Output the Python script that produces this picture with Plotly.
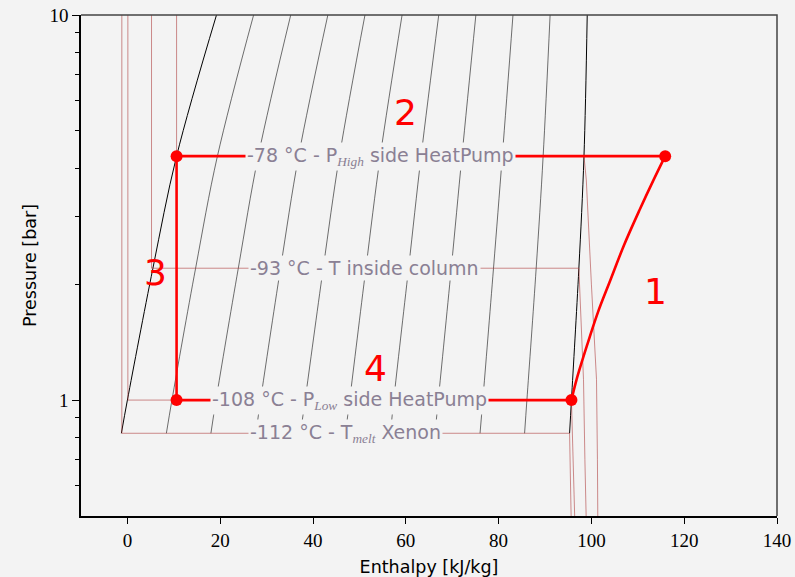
import plotly.graph_objects as go
import math

# ---------------- data ----------------
P_SAT = [0.82, 1.0, 2.2, 4.3, 10.0]                 # bar
H_SAT_LIQ = [-1.3, 0.0, 5.5, 10.6, 19.2]            # kJ/kg
H_SAT_VAP = [95.3, 95.7, 97.3, 98.4, 99.1]

QUALITY_H = [
    [8.4, 9.6, 14.7, 19.4, 27.2],
    [18.0, 19.1, 23.9, 28.2, 35.2],
    [27.7, 28.7, 33.0, 36.9, 43.2],
    [37.3, 38.3, 42.2, 45.7, 51.2],
    [47.0, 47.9, 51.4, 54.5, 59.2],
    [56.7, 57.4, 60.6, 63.3, 67.1],
    [66.3, 67.0, 69.8, 72.1, 75.1],
    [76.0, 76.6, 78.9, 80.8, 83.1],
    [85.6, 86.1, 88.1, 89.6, 91.1],
]

ISO_M112_H = [-1.2, -1.2, 95.3, 95.5, 95.7]
ISO_M112_P = [10.0, 0.82, 0.82, 0.6, 0.45]
ISO_M108_H = [0.1, 0.1, 95.7, 96.1, 96.5]
ISO_M108_P = [10.0, 1.0, 1.0, 0.7, 0.45]
ISO_M93_H = [5.2, 5.2, 97.3, 98.3, 98.6, 98.95]
ISO_M93_P = [10.0, 2.2, 2.2, 1.13, 0.7, 0.45]
ISO_M78_H = [10.6, 10.6, 98.4, 98.9, 100.0, 101.1, 101.3, 101.4]
ISO_M78_P = [10.0, 4.3, 4.3, 3.73, 2.0, 1.13, 0.7, 0.45]

P_HIGH = 4.3
P_LOW = 1.0
H_LIQ_POINT = 10.6
H_COMP_OUT = 115.9
H_EVAP_OUT = 95.7
COMP_H = [115.9, 113.4, 110.4, 107.0, 104.1, 101.4, 99.0, 96.8, 95.7]
COMP_P = [4.3, 3.73, 3.12, 2.52, 2.05, 1.69, 1.38, 1.13, 1.0]

LABELS = [
    "-78 °C - P<sub><span style='font-family:Liberation Serif'><i>High</i></span></sub> side HeatPump",
    "-93 °C - T inside column",
    "-108 °C - P<sub><span style='font-family:Liberation Serif'><i>Low</i></span></sub> side HeatPump",
    "-112 °C - T<sub><span style='font-family:Liberation Serif'><i>melt</i></span></sub> Xenon",
]
LABEL_H = [54.5, 51.1, 47.8, 47.1]
LABEL_P = [4.3, 2.2, 1.0, 0.82]

STEP_TEXT = ["1", "2", "3", "4"]
STEP_H = [113.9, 59.9, 6.1, 53.4]
STEP_P = [1.91, 5.58, 2.15, 1.21]

X_TICKS = [0, 20, 40, 60, 80, 100, 120, 140]
Y_TICKS = [1, 10]
Y_MINOR = [0.6, 0.7, 0.8, 0.9, 2, 3, 4, 5, 6, 7, 8, 9]

# ---------------- figure ----------------
BG = "#f3f3f3"
THIN_RED = "rgba(170,50,50,0.55)"
fig = go.Figure()

def line(x, y, color, width, shape="linear"):
    fig.add_trace(go.Scatter(x=x, y=y, mode="lines", hoverinfo="skip",
                             line=dict(color=color, width=width, shape=shape),
                             showlegend=False))

for qh in QUALITY_H:
    line(qh, P_SAT, "rgba(0,0,0,0.7)", 0.8, "spline")
line(H_SAT_LIQ, P_SAT, "black", 1.0, "spline")
line(H_SAT_VAP, P_SAT, "black", 1.0, "spline")

for h, p in [(ISO_M112_H, ISO_M112_P), (ISO_M108_H, ISO_M108_P),
             (ISO_M93_H, ISO_M93_P), (ISO_M78_H, ISO_M78_P)]:
    line(h, p, THIN_RED, 1.0)

# cycle
RED = "#ff0000"
line([H_LIQ_POINT, H_COMP_OUT], [P_HIGH, P_HIGH], RED, 2.6)
line(COMP_H, COMP_P, RED, 2.6, "spline")
line([H_EVAP_OUT, H_LIQ_POINT], [P_LOW, P_LOW], RED, 2.6)
line([H_LIQ_POINT, H_LIQ_POINT], [P_LOW, P_HIGH], RED, 2.6)
fig.add_trace(go.Scatter(x=[H_LIQ_POINT, H_COMP_OUT, H_EVAP_OUT, H_LIQ_POINT],
                         y=[P_HIGH, P_HIGH, P_LOW, P_LOW], mode="markers",
                         marker=dict(color=RED, size=12), hoverinfo="skip",
                         showlegend=False))

for t, h, p in zip(LABELS, LABEL_H, LABEL_P):
    fig.add_annotation(x=h, y=math.log10(p), text=t, showarrow=False,
                       font=dict(family="DejaVu Sans", size=19, color="#8a8094"),
                       bgcolor=BG, borderpad=1)
for t, h, p in zip(STEP_TEXT, STEP_H, STEP_P):
    fig.add_annotation(x=h, y=math.log10(p), text=t, showarrow=False,
                       font=dict(family="DejaVu Sans", size=36, color=RED))

# top/right frame
fig.add_shape(type="path", xref="paper", yref="paper",
              path="M 0 1 L 1 1 L 1 0", line=dict(color="#444", width=1.5))

fig.update_layout(
    width=795, height=577,
    margin=dict(l=81, r=18, t=15, b=61),
    paper_bgcolor=BG, plot_bgcolor=BG,
    font=dict(family="Liberation Serif", color="black"),
)
fig.update_xaxes(range=[-10, 140], tickvals=X_TICKS, ticks="outside", ticklen=6,
                 tickwidth=1.3, tickcolor="black", showline=True, linecolor="black",
                 linewidth=1.6, showgrid=False, zeroline=False, automargin=False,
                 tickfont=dict(family="Liberation Serif", size=19),
                 title=dict(text="Enthalpy [kJ/kg]", standoff=11,
                            font=dict(family="DejaVu Sans", size=17.5)))
fig.update_yaxes(type="log", range=[math.log10(0.5), 1], tickvals=Y_TICKS,
                 ticktext=["1", "10"], ticks="outside", ticklen=7, tickwidth=1.3,
                 tickcolor="black", showline=True, linecolor="black", linewidth=1.6,
                 showgrid=False, zeroline=False, automargin=False,
                 minor=dict(tickvals=Y_MINOR, ticks="outside", ticklen=4,
                            tickwidth=1, tickcolor="black", showgrid=False),
                 tickfont=dict(family="Liberation Serif", size=19),
                 title=dict(text="Pressure [bar]", standoff=8,
                            font=dict(family="DejaVu Sans", size=17.5)))

fig.write_html("out.html", config={"displayModeBar": False},
               post_script="document.body.style.margin='0';document.body.style.overflow='hidden';")
